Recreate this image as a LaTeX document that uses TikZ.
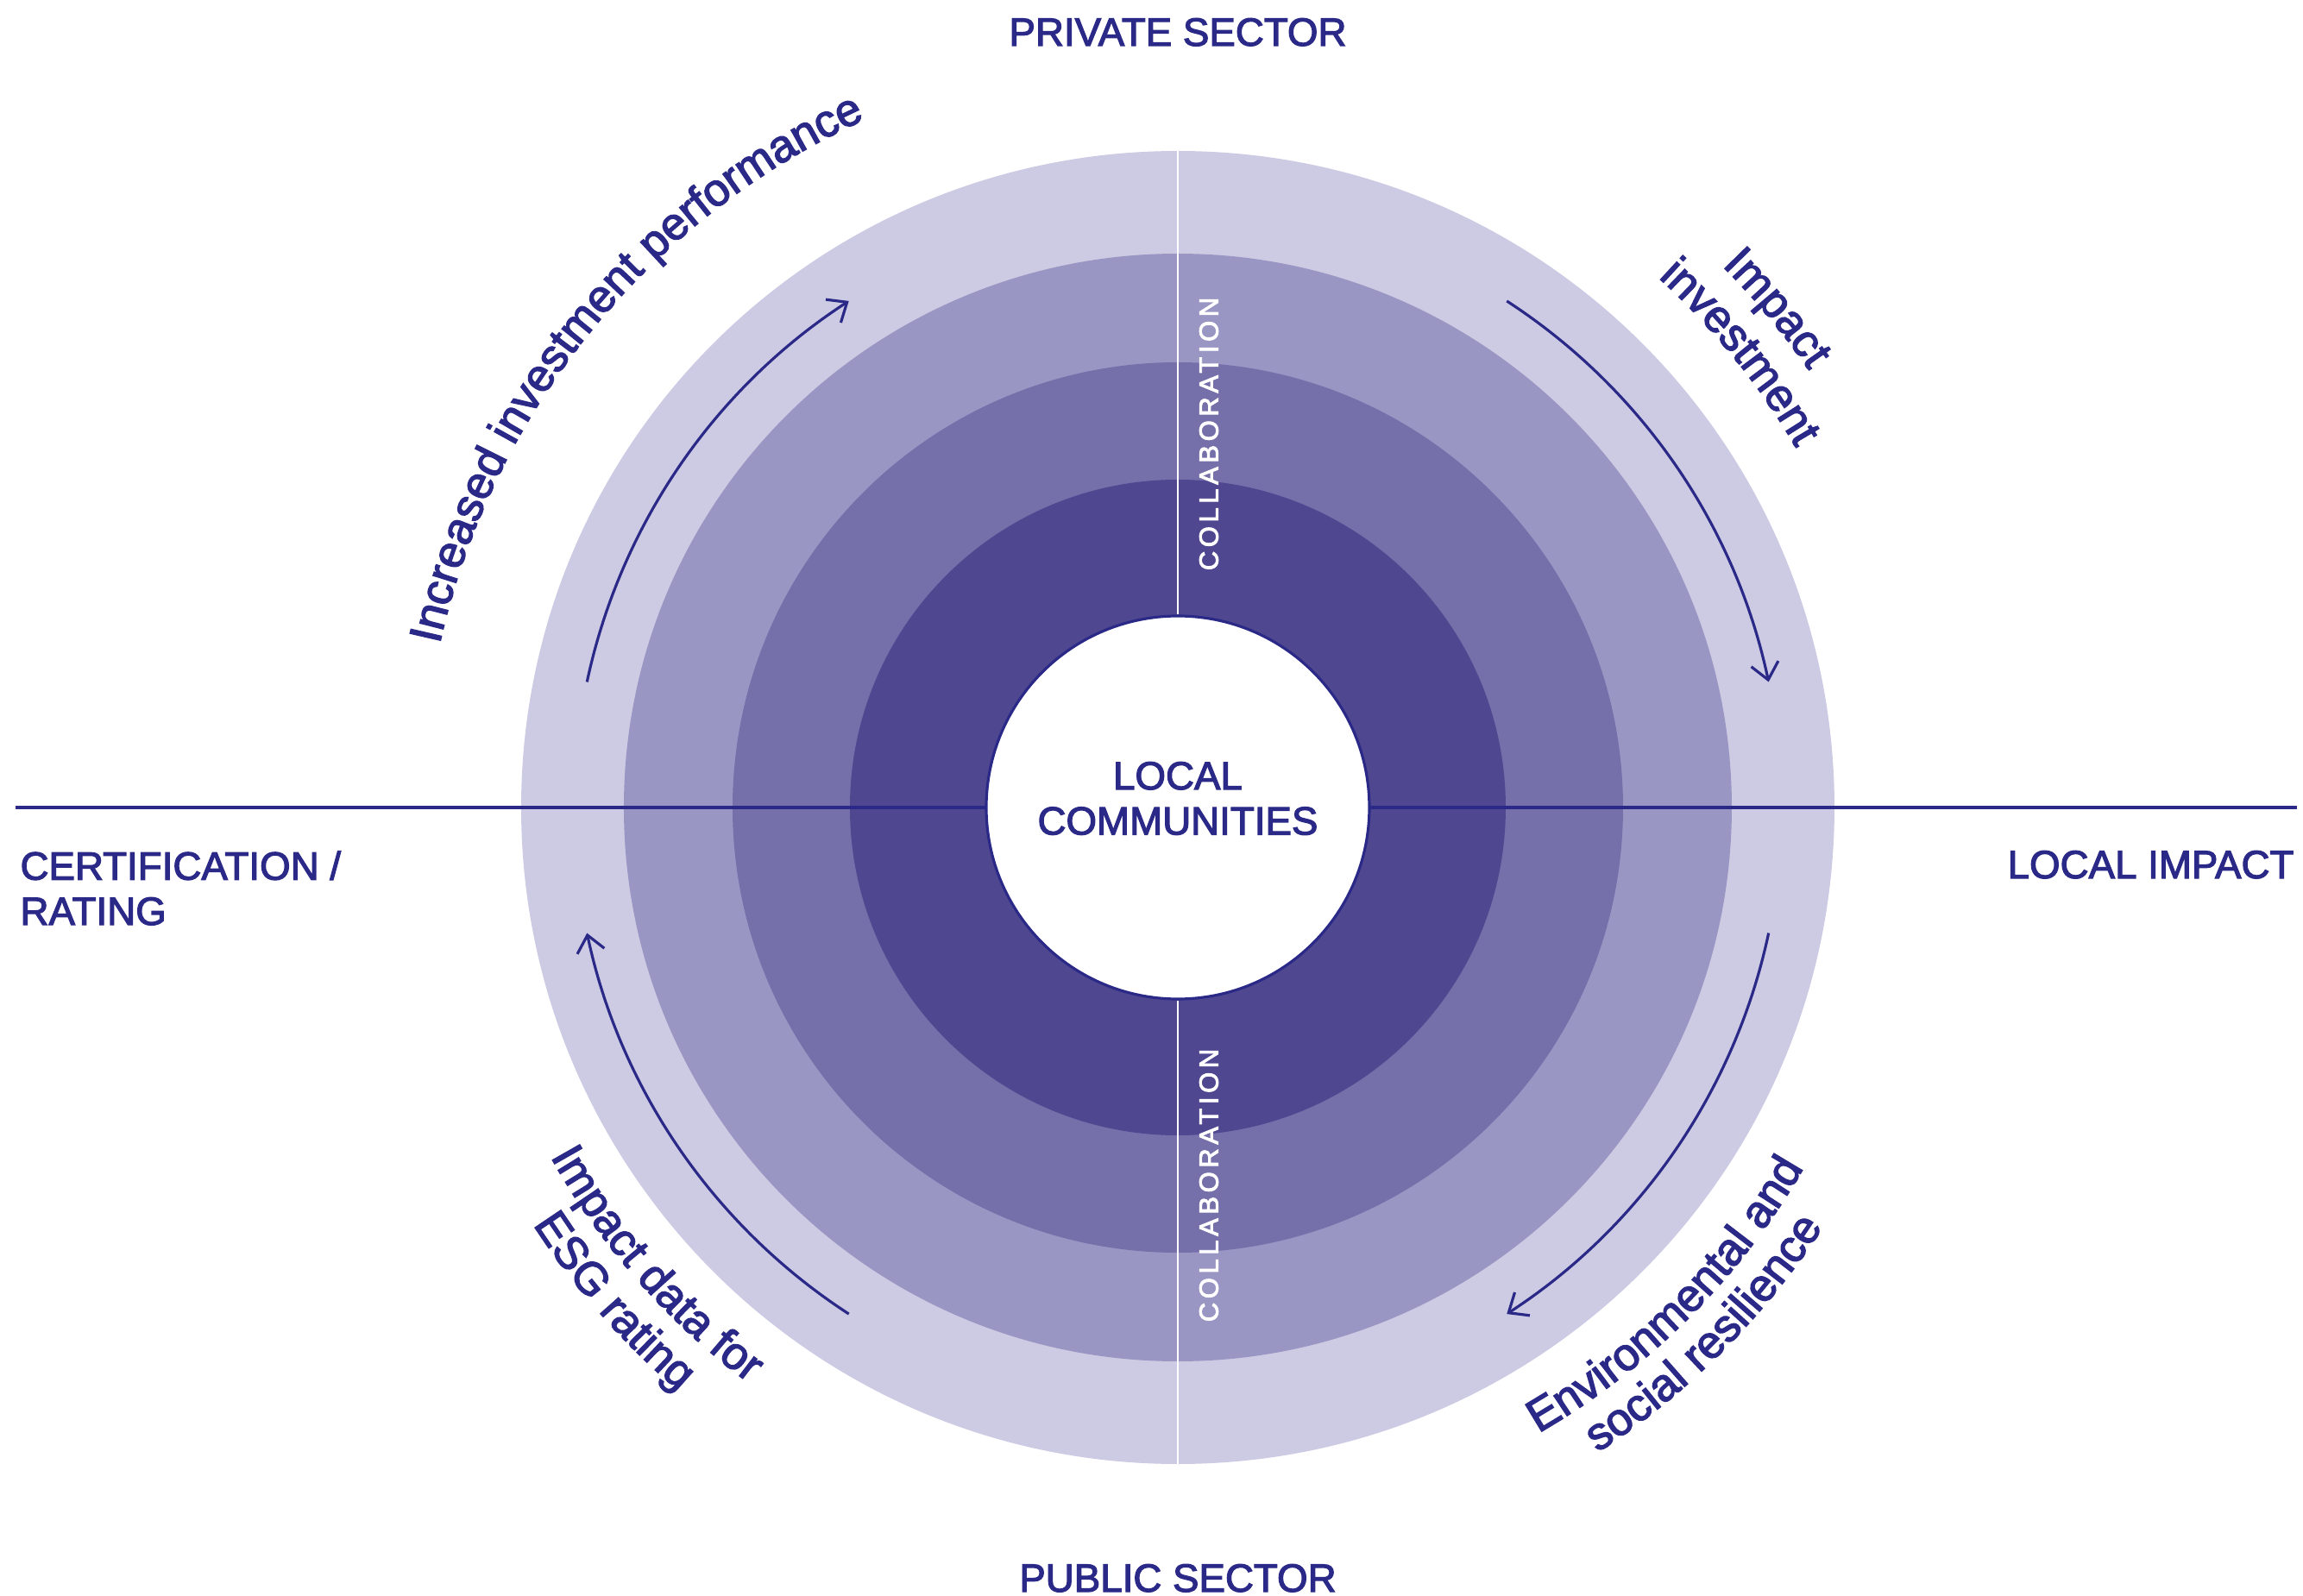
\documentclass[tikz,border=0pt]{standalone}
\usepackage{fontspec}
\setmainfont{Liberation Sans}[FakeBold=2.6]
\newfontfamily\spacedfont{Liberation Sans}[LetterSpace=15, FakeBold=3]
\usetikzlibrary{arrows.meta, decorations.text}

\definecolor{ink}{RGB}{43,41,135}
\definecolor{ringA}{RGB}{205,202,227}
\definecolor{ringB}{RGB}{154,150,196}
\definecolor{ringC}{RGB}{117,111,170}
\definecolor{ringD}{RGB}{79,72,145}

\begin{document}
\begin{tikzpicture}[
  line width=0.9pt,
  sector/.style={text=ink, inner sep=0pt, font=\fontsize{13}{14.9}\selectfont},
  flow/.style={draw=ink, line width=0.9pt, -{Straight Barb[length=1.9mm, width=3.2mm]}},
  arctext/.style={decorate, decoration={text along path, text align=center, text={|\fontsize{15}{18}\selectfont\color{ink}|#1}}},
  collab/.style={rotate=90, text=white, inner sep=0pt, font=\spacedfont\fontsize{8.8}{10}\selectfont}
]
  \useasboundingbox (-13.65,-9.14) rectangle (13.04,9.36);

  % Rings, outside in
  \foreach \r/\c in {7.61/ringA, 6.42/ringB, 5.16/ringC, 3.80/ringD}
    \fill[\c] (0,0) circle (\r);

  % Horizontal axis
  \coordinate (westend) at (-13.47,0);
  \coordinate (eastend) at (12.97,0);
  \draw[ink] (westend) -- (eastend);

  % Core
  \node[circle, fill=white, draw=ink, line width=0.9pt, minimum size=4.44cm, inner sep=0pt] (core) at (0,0) {};
  \node[sector, align=center] (corelabel) at (0,0.105) {LOCAL\\COMMUNITIES};

  % Vertical white axis
  \coordinate (topend) at (90:7.61);
  \coordinate (bottomend) at (-90:7.61);
  \draw[white, line width=0.8pt] (core.north) -- (topend);
  \draw[white, line width=0.8pt] (core.south) -- (bottomend);

  \node[collab] (collabtop) at (0.36,4.33) {COLLABORATION};
  \node[collab] (collabbottom) at (0.36,-4.38) {COLLABORATION};

  % Sector labels
  \node[sector, anchor=base] (private) at (0,8.83) {PRIVATE SECTOR};
  \node[sector, anchor=base] (public) at (0,-9.09) {PUBLIC SECTOR};
  \node[sector, anchor=base east] (localimpact) at (12.95,-0.82) {LOCAL IMPACT};
  \node[sector, anchor=north west, align=left] (cert) at (-13.43,-0.49) {CERTIFICATION /\\RATING};

  % Flow arrows
  \draw[flow] (168:7) arc[start angle=168, end angle=123, radius=7];
  \draw[flow] (57:7) arc[start angle=57, end angle=12, radius=7];
  \draw[flow] (-12:7) arc[start angle=-12, end angle=-57, radius=7];
  \draw[flow] (-123:7) arc[start angle=-123, end angle=-168, radius=7];

  % Curved captions
  \path[arctext={Increased investment performance}] (181:8.76) arc[start angle=181, end angle=101, radius=8.76];
  \path[arctext={Impact}] (79.8:8.9) arc[start angle=79.8, end angle=-0.2, radius=8.9];
  \path[arctext={investment}] (79:8.29) arc[start angle=79, end angle=-1, radius=8.29];
  \path[arctext={Impact data for}] (181.2:8.32) arc[start angle=181.2, end angle=261.2, radius=8.32];
  \path[arctext={ESG rating}] (181.2:8.9) arc[start angle=181.2, end angle=261.2, radius=8.9];
  \path[arctext={Environmental and}] (-85:8.37) arc[start angle=-85, end angle=-5, radius=8.37];
  \path[arctext={social resilience}] (-85:8.92) arc[start angle=-85, end angle=-5, radius=8.92];
\end{tikzpicture}
\end{document}
